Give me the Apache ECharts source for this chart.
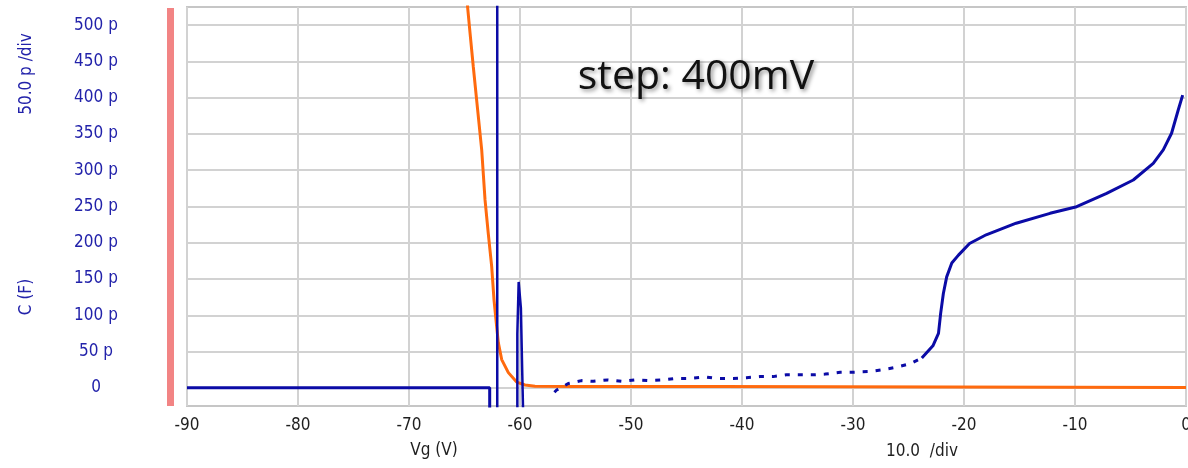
<!DOCTYPE html>
<html>
<head>
<meta charset="utf-8">
<script src="https://cdn.jsdelivr.net/npm/echarts@6/dist/echarts.min.js"></script>
<style>
  html, body { margin: 0; padding: 0; background: #ffffff; }
  #chart { width: 1188px; height: 468px; }
</style>
</head>
<body>
<div id="chart"></div>
<script>
// Gate sweep Vg (V) against capacitance C (pF)
const xTicks = [-90, -80, -70, -60, -50, -40, -30, -20, -10, 0];
const yTicks = [0, 50, 100, 150, 200, 250, 300, 350, 400, 450, 500];

// Orange trace: steep fall near -64 V, then flat near zero
const orangeTrace = [
  [-64.8, 540], [-64.71, 523], [-64.5, 489], [-64.21, 443], [-63.9, 396],
  [-63.45, 328], [-63.15, 259], [-62.86, 213], [-62.55, 167], [-62.34, 121],
  [-62.1, 84], [-61.95, 62], [-61.65, 39], [-61.05, 21], [-60.3, 8],
  [-59.55, 4], [-58.65, 2.2], [-55, 2], [-50, 2], [-42.1, 2], [-42, 0.6], [0, 0.6]
];

// Blue trace, off-scale pieces around -62 V
const blueFlat = [[-90, 0], [-62.73, 0], [-62.73, -60]];
const blueJump = [[-62.05, -60], [-62.05, 600]];
const blueSpike = [
  [-60.24, -60], [-60.24, 74], [-60.12, 74], [-60.12, 146], [-59.95, 146],
  [-59.92, 110], [-59.86, 110], [-59.8, 22], [-59.68, 22], [-59.68, -60]
];

// Blue trace, noisy low-level region
const blueNoisy = [
  [-56.9, -6], [-56.7, -3], [-55.65, 6], [-54.45, 10], [-53.4, 9], [-52.1, 11],
  [-50.8, 9], [-49.6, 11], [-48.4, 10], [-47.1, 11], [-45.9, 13], [-44.8, 13],
  [-43.3, 15], [-42.3, 13], [-40.8, 13], [-39.6, 14], [-38.4, 15.5], [-37.2, 15.5],
  [-36, 18], [-34.9, 18], [-33.6, 18], [-32.5, 19], [-31.15, 21.5], [-30.1, 21.5],
  [-28.5, 22.5], [-27.3, 25], [-26.1, 28.5], [-24.9, 33], [-23.8, 41]
];

// Blue trace, rise and plateau up to 0 V
const blueRise = [
  [-23.8, 41], [-22.8, 58], [-22.3, 75], [-22.1, 103], [-21.86, 130], [-21.56, 153],
  [-21.1, 172], [-20.5, 183], [-19.5, 199], [-18, 211], [-15.3, 227], [-12.25, 240.6],
  [-9.85, 249.7], [-7.15, 268], [-4.75, 286.5], [-2.95, 309.5], [-2.05, 328],
  [-1.3, 351], [-0.7, 383], [-0.3, 403.6]
];

const BLUE = '#0b0ba6';
const ORANGE = '#ff6a0e';
const GRID = '#d2d2d2';
const LABEL_BLUE = '#2222aa';
const narrow = '"Liberation Sans Narrow", "DejaVu Sans Condensed", "Liberation Sans", sans-serif';

const chart = echarts.init(document.getElementById('chart'), null, { renderer: 'canvas' });

function lineSeries(data, color, extra) {
  return Object.assign({
    type: 'line',
    data: data,
    showSymbol: false,
    symbol: 'none',
    clip: true,
    animation: false,
    lineStyle: { color: color, width: 3 },
    z: 3
  }, extra || {});
}

chart.setOption({
  animation: false,
  backgroundColor: '#ffffff',
  grid: {
    left: 187, right: 2, top: 7, bottom: 62,
    outerBoundsMode: 'none', containLabel: false,
    show: true, borderColor: '#c6c6c6', borderWidth: 2, backgroundColor: 'transparent'
  },
  xAxis: {
    type: 'value',
    min: xTicks[0], max: xTicks[xTicks.length - 1], interval: 10,
    axisLine: { show: false },
    axisTick: { show: false },
    splitLine: { show: true, lineStyle: { color: GRID, width: 2 } },
    axisLabel: {
      margin: 11, color: '#1e1e1e', fontFamily: narrow, fontSize: 17,
      formatter: v => (xTicks.indexOf(v) >= 0 ? String(v) : '')
    }
  },
  yAxis: {
    type: 'value',
    min: -25, max: 525, interval: 25,
    axisLine: { show: false },
    axisTick: { show: false },
    splitLine: { show: true, lineStyle: { color: ['transparent', GRID], width: 2 } },
    axisLabel: {
      margin: 91, align: 'center', color: LABEL_BLUE, fontFamily: narrow, fontSize: 17,
      formatter: v => (yTicks.indexOf(v) >= 0 ? (v === 0 ? '0' : v + ' p') : '')
    }
  },
  graphic: [
    { type: 'rect', shape: { x: 167, y: 8, width: 7, height: 398 }, style: { fill: '#f28484' }, silent: true },
    { type: 'text', x: 27, y: 297, rotation: Math.PI / 2,
      style: { text: 'C (F)', fill: LABEL_BLUE, font: '17px ' + narrow, align: 'center', verticalAlign: 'middle' } },
    { type: 'text', x: 27, y: 74, rotation: Math.PI / 2,
      style: { text: '50.0 p /div', fill: LABEL_BLUE, font: '17px ' + narrow, align: 'center', verticalAlign: 'middle' } },
    { type: 'text', x: 434, y: 451,
      style: { text: 'Vg (V)', fill: '#1e1e1e', font: '17px ' + narrow, align: 'center', verticalAlign: 'middle' } },
    { type: 'text', x: 922, y: 452,
      style: { text: '10.0  /div', fill: '#1e1e1e', font: '17px ' + narrow, align: 'center', verticalAlign: 'middle' } },
    { type: 'text', x: 696, y: 77, z: 10,
      style: {
        text: 'step: 400mV', fill: '#111111', font: '41px "Open Sans", sans-serif',
        align: 'center', verticalAlign: 'middle',
        textShadowColor: 'rgba(0,0,0,0.45)', textShadowBlur: 4, textShadowOffsetX: 2, textShadowOffsetY: 2
      } }
  ],
  series: [
    lineSeries(orangeTrace, ORANGE, { z: 2 }),
    lineSeries(blueFlat, BLUE),
    lineSeries(blueJump, BLUE, { lineStyle: { color: BLUE, width: 2.5 } }),
    lineSeries(blueSpike, BLUE, { lineStyle: { color: BLUE, width: 2.5 } }),
    lineSeries(blueNoisy, BLUE, { lineStyle: { color: BLUE, width: 3, type: [5, 8], cap: 'butt' } }),
    lineSeries(blueRise, BLUE)
  ]
});
</script>
</body>
</html>
